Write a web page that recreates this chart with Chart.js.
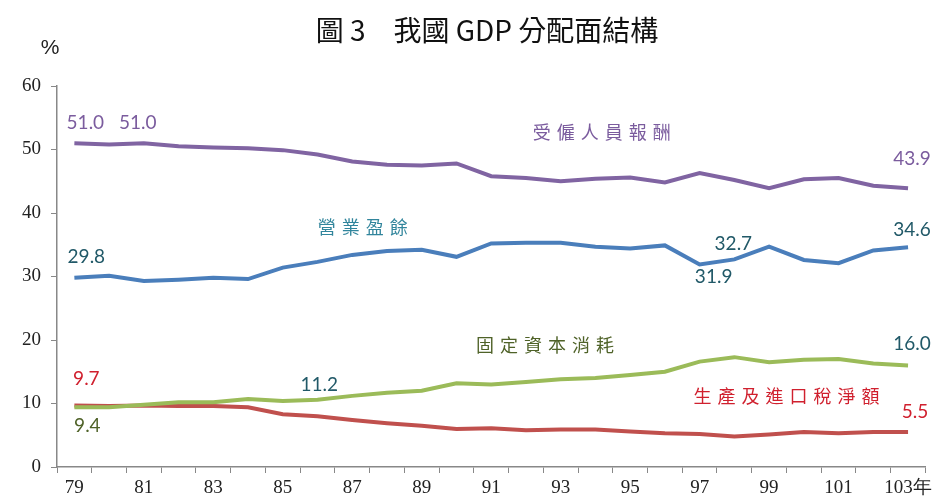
<!DOCTYPE html>
<html>
<head>
<meta charset="utf-8">
<script src="https://cdn.jsdelivr.net/npm/chart.js@4"></script>
<style>
    body { margin: 0; background: #fff; }
    #wrap { width: 936px; height: 502px; position: relative; }
</style>
</head>
<body>
<div id="wrap"><canvas id="gdpChart" width="936" height="502"></canvas></div>
<script>
// 民國年 79 ~ 103
const years = ['79', '80', '81', '82', '83', '84', '85', '86', '87', '88', '89', '90', '91',
    '92', '93', '94', '95', '96', '97', '98', '99', '100', '101', '102', '103'];
const tickLabels = ['79', '', '81', '', '83', '', '85', '', '87', '', '89', '', '91',
    '', '93', '', '95', '', '97', '', '99', '', '101', '', '103年'];
const yTicks = [0, 10, 20, 30, 40, 50, 60];

const compensation = [51.0, 50.8, 51.0, 50.5, 50.3, 50.2, 49.9, 49.2, 48.1, 47.6, 47.5, 47.8, 45.8,
    45.5, 45.0, 45.4, 45.6, 44.8, 46.3, 45.2, 43.9, 45.3, 45.5, 44.3, 43.9];
const surplus = [29.8, 30.1, 29.3, 29.5, 29.8, 29.6, 31.4, 32.3, 33.4, 34.0, 34.2, 33.1, 35.2,
    35.3, 35.3, 34.7, 34.4, 34.9, 31.9, 32.7, 34.7, 32.6, 32.1, 34.1, 34.6];
const depreciation = [9.4, 9.4, 9.8, 10.2, 10.2, 10.7, 10.4, 10.6, 11.2, 11.7, 12.0, 13.2, 13.0,
    13.4, 13.8, 14.0, 14.5, 15.0, 16.6, 17.3, 16.5, 16.9, 17.0, 16.3, 16.0];
const netTaxes = [9.7, 9.6, 9.7, 9.6, 9.6, 9.4, 8.3, 8.0, 7.4, 6.9, 6.5, 6.0, 6.1,
    5.8, 5.9, 5.9, 5.6, 5.3, 5.2, 4.8, 5.1, 5.5, 5.3, 5.5, 5.5];

const numFont = '19px Lato, "Open Sans", sans-serif';
const nameFont = '18px "Noto Sans CJK TC", sans-serif';

// 數值標籤: [資料, 索引, dx, dy, 顏色]
const valueLabels = [
    [compensation, 0, 11, -20, '#7b5c9e'],
    [compensation, 2, -6, -20, '#7b5c9e'],
    [compensation, 24, 4, -29, '#7b5c9e'],
    [surplus, 0, 12, -21, '#215968'],
    [surplus, 18, 14, 12, '#215968'],
    [surplus, 19, -1, -15, '#215968'],
    [surplus, 24, 4, -17, '#215968'],
    [depreciation, 0, 13, 19, '#4f6228'],
    [depreciation, 8, -33, -11, '#215968'],
    [depreciation, 24, 4, -22, '#215968'],
    [netTaxes, 0, 12, -27, '#d0202e'],
    [netTaxes, 24, 7, -20, '#d0202e']
];
// 系列名稱: [文字, 索引(可小數), 值, 顏色]
const seriesNames = [
    ['受僱人員報酬', 15.18, 52.7, '#7b5c9e'],
    ['營業盈餘', 8.3, 37.7, '#31859c'],
    ['固定資本消耗', 13.55, 19.2, '#4f6228'],
    ['生產及進口稅淨額', 20.5, 11.1, '#d0202e']
];

const textPlugin = {
    id: 'textPlugin',
    afterDatasetsDraw(chart) {
        const ctx = chart.ctx;
        const xs = chart.scales.x, ys = chart.scales.y;
        ctx.save();
        ctx.textAlign = 'center';
        ctx.textBaseline = 'middle';

        // 標題
        ctx.fillStyle = '#111';
        ctx.font = '28px "Noto Sans CJK TC", sans-serif';
        ctx.fillText('圖 3　我國 GDP 分配面結構', 487, 30);
        ctx.font = '21px "Liberation Sans", sans-serif';
        ctx.fillStyle = '#222';
        ctx.fillText('%', 50, 48);

        ctx.font = numFont;
        valueLabels.forEach(function (l) {
            const v = l[0][l[1]];
            ctx.fillStyle = l[4];
            ctx.fillText(v.toFixed(1), xs.getPixelForValue(l[1]) + l[2], ys.getPixelForValue(v) + l[3]);
        });

        ctx.font = nameFont;
        ctx.letterSpacing = '6px';
        seriesNames.forEach(function (s) {
            ctx.fillStyle = s[3];
            ctx.fillText(s[0], xs.getPixelForValue(s[1]) + 3, ys.getPixelForValue(s[2]));
        });
        ctx.restore();
    }
};

function lineSet(label, data, color) {
    return {
        label: label,
        data: data,
        borderColor: color,
        backgroundColor: color,
        borderWidth: 4,
        pointRadius: 0,
        tension: 0,
        fill: false
    };
}

const ctx = document.getElementById('gdpChart');
const myChart = new Chart(ctx, {
    type: 'line',
    data: {
        labels: years,
        datasets: [
            lineSet('受僱人員報酬', compensation, '#8064a2'),
            lineSet('營業盈餘', surplus, '#4a7ebb'),
            lineSet('固定資本消耗', depreciation, '#9bbb59'),
            lineSet('生產及進口稅淨額', netTaxes, '#c0504d')
        ]
    },
    options: {
        responsive: false,
        animation: false,
        layout: {
            padding: { top: 86, right: 10, left: 0, bottom: 0 }
        },
        scales: {
            x: {
                offset: true,
                grid: {
                    offset: true,
                    drawOnChartArea: false,
                    drawTicks: true,
                    tickLength: 6,
                    color: '#888'
                },
                border: { color: '#888', width: 1.5 },
                ticks: {
                    autoSkip: false,
                    maxRotation: 0,
                    padding: 4,
                    color: '#222',
                    font: { family: '"Liberation Serif", serif', size: 19 },
                    callback: function (v, i) { return tickLabels[i]; }
                },
                afterFit: function (s) { s.height = 35; }
            },
            y: {
                min: 0,
                max: 60,
                afterBuildTicks: function (s) {
                    s.ticks = yTicks.map(function (v) { return { value: v }; });
                },
                grid: {
                    drawOnChartArea: false,
                    drawTicks: true,
                    tickLength: 6,
                    color: '#888'
                },
                border: { color: '#888', width: 1.5 },
                ticks: {
                    padding: 10,
                    color: '#222',
                    font: { family: '"Liberation Serif", serif', size: 19 }
                },
                afterFit: function (s) { s.width = 57; }
            }
        },
        plugins: {
            legend: { display: false },
            tooltip: { enabled: false }
        }
    },
    plugins: [textPlugin]
});
</script>
</body>
</html>
